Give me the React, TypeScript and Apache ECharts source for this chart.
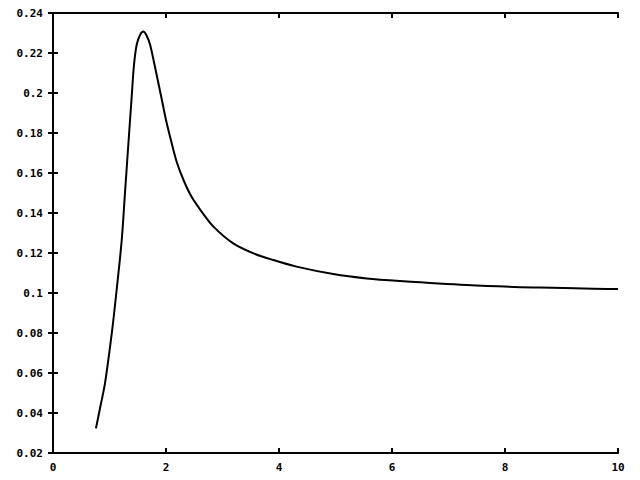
import React, { useEffect, useRef } from "react";
import * as echarts from "echarts";

const xValues = [0.76, 0.84, 0.92, 1.04, 1.115, 1.215, 1.274, 1.35, 1.39, 1.43, 1.48, 1.54, 1.60, 1.66, 1.72, 1.835, 1.92, 2.00, 2.10, 2.19, 2.31, 2.45, 2.63, 2.84, 3.19, 3.55, 3.90, 4.31, 4.96, 5.55, 6.14, 7.32, 8.50, 9.92, 10.0];
const yValues = [0.0323, 0.0435, 0.0548, 0.0798, 0.0985, 0.1260, 0.1500, 0.1810, 0.1970, 0.2130, 0.2240, 0.2290, 0.2307, 0.2285, 0.2240, 0.2090, 0.1975, 0.1865, 0.1750, 0.1655, 0.1565, 0.1482, 0.1407, 0.1332, 0.1248, 0.1198, 0.1165, 0.1132, 0.1095, 0.1073, 0.1060, 0.1040, 0.1028, 0.1020, 0.1020];

const font = "DejaVu Sans Mono";

export default function App() {
  const ref = useRef<HTMLDivElement>(null);
  useEffect(() => {
    if (!ref.current) return;
    const chart = echarts.init(ref.current, null, { renderer: "svg" });
    const data = xValues.map((x, i) => [x, yValues[i]]);
    const axisLine = { show: true, lineStyle: { color: "#000", width: 2 } };
    const axisTick = { show: true, inside: true, length: 5, lineStyle: { color: "#000", width: 2 } };
    chart.setOption({
      animation: false,
      backgroundColor: "#fff",
      grid: { left: 53, right: 22, top: 13, bottom: 27 },
      xAxis: [
        {
          type: "value", min: 0, max: 10, interval: 2, position: "bottom",
          axisLine, axisTick, splitLine: { show: false },
          axisLabel: { color: "#000", fontFamily: font, fontWeight: "bold", fontSize: 11, margin: 9 },
        },
        {
          type: "value", min: 0, max: 10, interval: 2, position: "top",
          axisLine, axisTick, splitLine: { show: false }, axisLabel: { show: false },
        },
      ],
      yAxis: [
        {
          type: "value", min: 0.02, max: 0.24, interval: 0.02, position: "left",
          axisLine, axisTick, splitLine: { show: false },
          axisLabel: {
            color: "#000", fontFamily: font, fontWeight: "bold", fontSize: 11, margin: 10,
            formatter: (v: number) => String(parseFloat(v.toFixed(2))),
          },
        },
        {
          type: "value", min: 0.02, max: 0.24, interval: 0.02, position: "right",
          axisLine, axisTick, splitLine: { show: false }, axisLabel: { show: false },
        },
      ],
      series: [
        {
          type: "line", data, xAxisIndex: 0, yAxisIndex: 0,
          showSymbol: false, smooth: 0.3,
          lineStyle: { color: "#000", width: 2 },
        },
      ],
    });
    return () => chart.dispose();
  }, []);
  return <div ref={ref} style={{ position: "fixed", left: 0, top: 0, width: 640, height: 480 }} />;
}
